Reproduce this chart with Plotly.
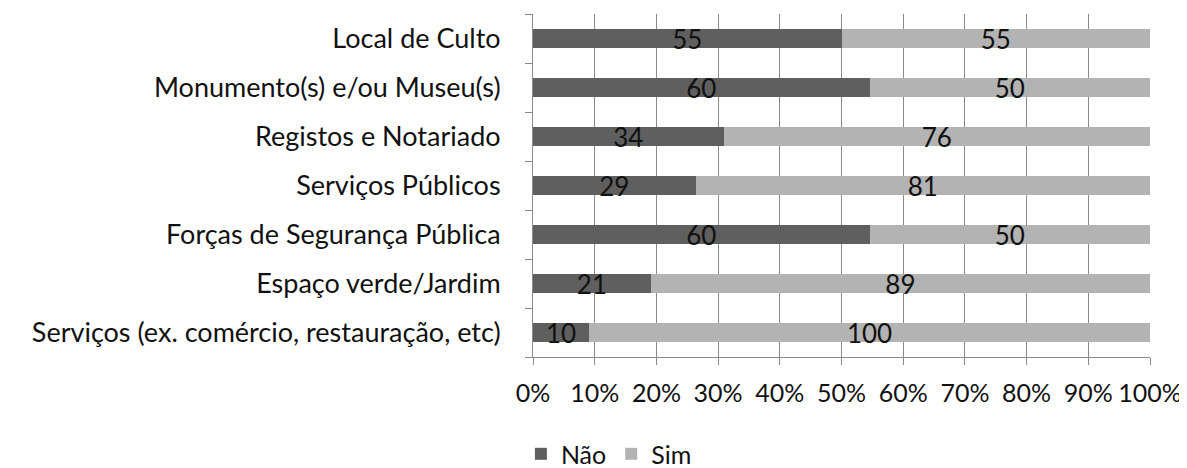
import plotly.graph_objects as go

categories = [
    "Local de Culto",
    "Monumento(s) e/ou Museu(s)",
    "Registos e Notariado",
    "Serviços Públicos",
    "Forças de Segurança Pública",
    "Espaço verde/Jardim",
    "Serviços (ex. comércio, restauração, etc)",
]
nao = [55, 60, 34, 29, 60, 21, 10]
sim = [55, 50, 76, 81, 50, 89, 100]
x_ticks = [0, 10, 20, 30, 40, 50, 60, 70, 80, 90, 100]
x_tick_labels = [f"{v}%" for v in x_ticks]

FONT = "Lato"
FS = 27
fig = go.Figure()
fig.add_trace(go.Bar(
    y=categories, x=nao, name="Não", orientation="h",
    marker=dict(color="#5f5f5f", line=dict(width=0)),
    text=nao, textposition="inside", insidetextanchor="middle",
    constraintext="none", textangle=0,
    textfont=dict(color="#111111", size=FS - 1, family=FONT),
))
fig.add_trace(go.Bar(
    y=categories, x=sim, name="Sim", orientation="h",
    marker=dict(color="#b3b3b3", line=dict(width=0)),
    text=sim, textposition="inside", insidetextanchor="middle",
    constraintext="none", textangle=0,
    textfont=dict(color="#111111", size=FS - 1, family=FONT),
))
fig.update_layout(
    barmode="stack", barnorm="percent", bargap=0.62,
    width=1179, height=460,
    margin=dict(l=525, r=37, t=6, b=111, autoexpand=False),
    paper_bgcolor="white", plot_bgcolor="white",
    font=dict(family=FONT, size=FS, color="#111111"),
    uniformtext=dict(mode=False),
    legend=dict(orientation="h", x=0.123, xanchor="center", y=-0.283, yanchor="middle",
                font=dict(size=25), itemwidth=30, traceorder="normal"),
    showlegend=True,
)
fig.update_xaxes(
    range=[0, 100], tickvals=x_ticks, ticktext=x_tick_labels, automargin=False,
    showgrid=True, gridcolor="#8a8a8a", gridwidth=1,
    showline=True, linecolor="#8a8a8a", linewidth=1,
    ticks="outside", ticklen=7, tickcolor="#8a8a8a", ticklabelstandoff=7,
    zeroline=False, tickfont=dict(size=25),
)
fig.update_yaxes(
    categoryorder="array", categoryarray=categories[::-1], automargin=False,
    showline=True, linecolor="#8a8a8a", linewidth=1,
    ticks="outside", ticklen=7, tickcolor="#8a8a8a", tickson="boundaries",
    ticklabelstandoff=26, tickfont=dict(size=FS),
)
fig.write_html("out.html")
